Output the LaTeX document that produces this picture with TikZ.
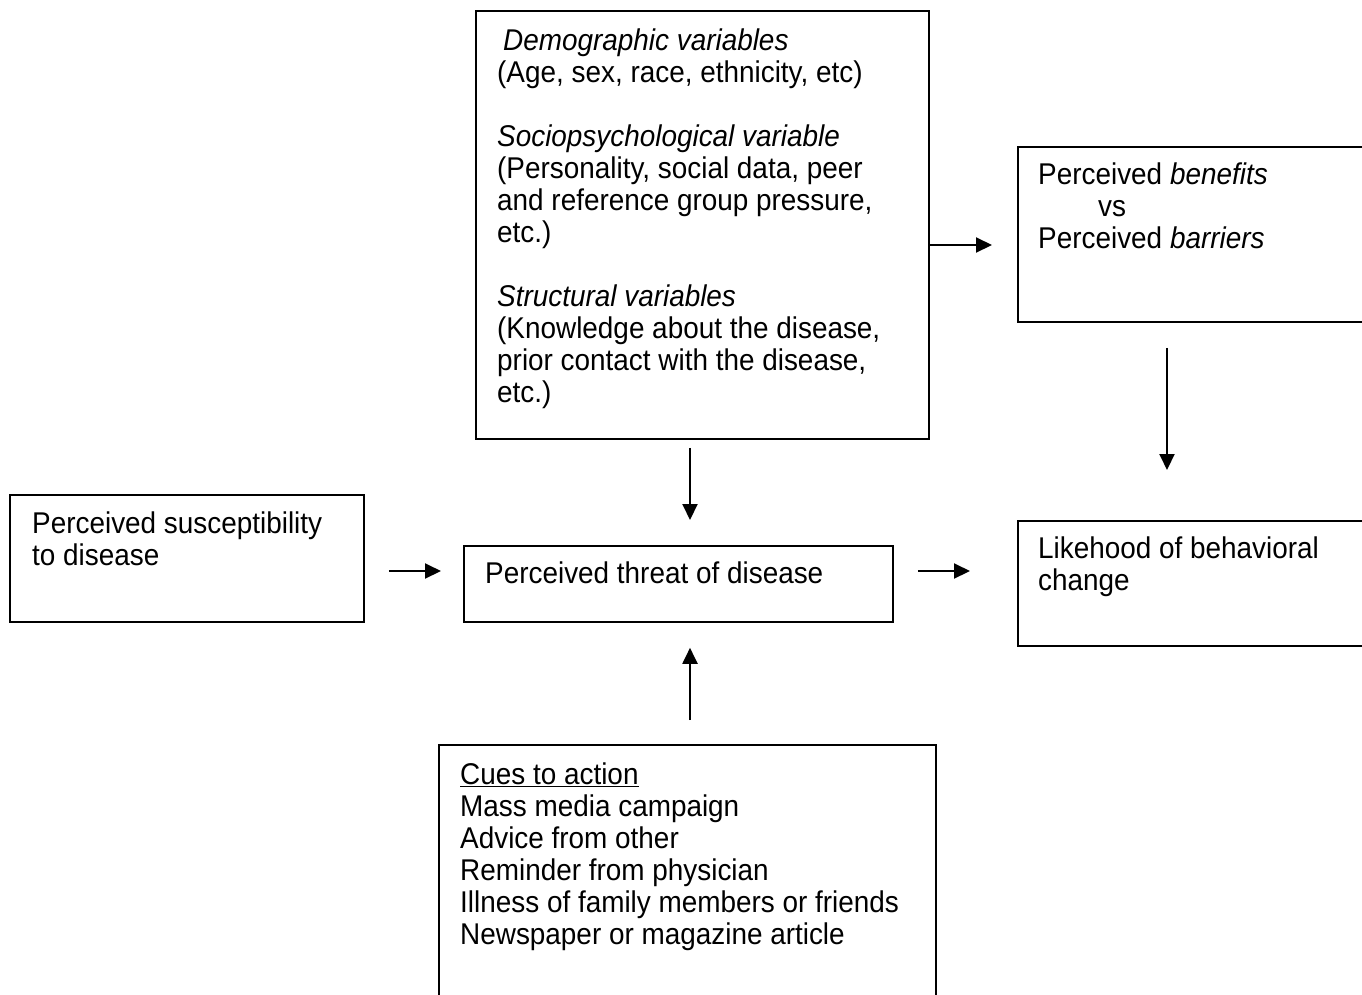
\documentclass[tikz,border=0pt]{standalone}
\usepackage{fontspec}
\setmainfont{Liberation Sans}[FakeStretch=0.93]
\usetikzlibrary{arrows.meta}
\begin{document}
\begin{tikzpicture}[x=1pt,y=1pt,
  box/.style={draw, line width=1.8pt, rectangle, inner sep=0pt, anchor=north west},
  txt/.style={inner sep=0pt, anchor=base west, align=left, font={\fontsize{30}{32}\selectfont}},
  arr/.style={line width=2pt, -{Triangle[length=16pt,width=15pt]}}]
\useasboundingbox (0,0) rectangle (1362,-994);
\clip (0,0) rectangle (1362,-994);
\fill[white] (0,0) rectangle (1362,-994);
% boxes
\node[box, minimum width=453pt, minimum height=428pt] (top) at (475,-10) {};
\node[box, minimum width=400pt, minimum height=175pt] (benefits) at (1017,-146) {};
\node[box, minimum width=400pt, minimum height=125pt] (likelihood) at (1017,-520) {};
\node[box, minimum width=354pt, minimum height=127pt] (susc) at (9,-494) {};
\node[box, minimum width=429pt, minimum height=76pt] (threat) at (463,-545) {};
\node[box, minimum width=497pt, minimum height=280pt] (cues) at (438,-744) {};
% texts (base anchor = baseline of the last line)
\node[txt] (toptxt) at (497,-402) {\hspace*{6pt}\textit{Demographic variables}\\
(Age, sex, race, ethnicity, etc)\\[32pt]
\textit{Sociopsychological variable}\\
(Personality, social data, peer\\
and reference group pressure,\\
etc.)\\[32pt]
\textit{Structural variables}\\
(Knowledge about the disease,\\
prior contact with the disease,\\
etc.)};
\node[txt] (bentxt) at (1038,-248) {Perceived \textit{benefits}\\
\hspace*{60pt}vs\\
Perceived \textit{barriers}};
\node[txt] (liktxt) at (1038,-590) {Likehood of behavioral\\change};
\node[txt] (susctxt) at (32,-565) {Perceived susceptibility\\to disease};
\node[txt] (thrtxt) at (485,-583) {Perceived threat of disease};
\node[txt] (cuestxt) at (460,-944) {\underline{Cues to action}\\
Mass media campaign\\
Advice from other\\
Reminder from physician\\
Illness of family members or friends\\
Newspaper or magazine article};
% axes for connectors
\coordinate (ytb) at (0,-245);
\coordinate (xbl) at (1167,0);
\coordinate (yrow) at (0,-571);
\coordinate (xmid) at (690,0);
% connectors
\draw[arr, shorten >=25pt] (top.east |- ytb) -- (benefits.west |- ytb);
\draw[arr, shorten <=25pt, shorten >=50pt] (benefits.south -| xbl) -- (likelihood.north -| xbl);
\draw[arr, shorten <=24pt, shorten >=22pt] (susc.east |- yrow) -- (threat.west |- yrow);
\draw[arr, shorten <=24pt, shorten >=47pt] (threat.east |- yrow) -- (likelihood.west |- yrow);
\draw[arr, shorten <=8pt, shorten >=25pt] (top.south -| xmid) -- (threat.north -| xmid);
\draw[arr, shorten <=24pt, shorten >=25pt] (cues.north -| xmid) -- (threat.south -| xmid);
\end{tikzpicture}
\end{document}
